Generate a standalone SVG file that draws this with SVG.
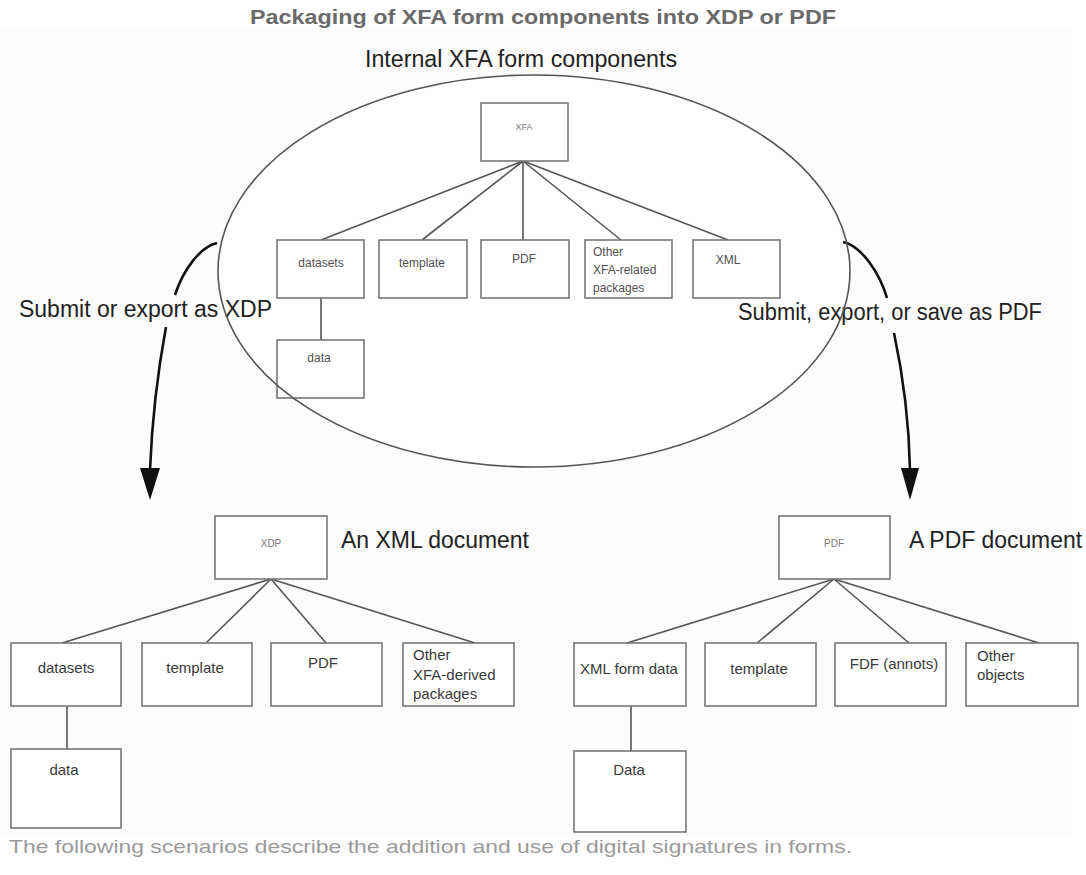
<svg xmlns="http://www.w3.org/2000/svg" width="1086" height="875" viewBox="0 0 1086 875">
  <defs>
    <style>
      .box { fill: #ffffff; stroke: #777777; stroke-width: 1.6; }
      .link { stroke: #555555; stroke-width: 1.6; fill: none; }
      .flow { stroke: #111111; stroke-width: 2.6; fill: none; }
      .head { fill: #111111; }
      .sm { font-family: "Liberation Sans", Arial, sans-serif; font-size: 12px; fill: #505050; }
      .md { font-family: "Liberation Sans", Arial, sans-serif; font-size: 15px; fill: #3a3a3a; }
      .tiny { font-family: "Liberation Sans", Arial, sans-serif; fill: #777777; }
      .big { font-family: "Liberation Sans", Arial, sans-serif; font-size: 23px; fill: #222222; }
      .mid { text-anchor: middle; }
    </style>
  </defs>

  <rect width="1086" height="875" fill="#ffffff"/>
  <!-- faint page panel -->
  <rect x="0" y="30" width="1072" height="806" fill="#fcfcfc"/>

  <!-- headings -->
  <text x="543" y="24" class="mid" font-family="Liberation Sans, Arial, sans-serif" font-size="21" font-weight="bold" fill="#6a6a6a" textLength="586" lengthAdjust="spacingAndGlyphs">Packaging of XFA form components into XDP or PDF</text>
  <text x="521" y="67" class="big mid" textLength="312" lengthAdjust="spacingAndGlyphs">Internal XFA form components</text>

  <!-- interior of the internal components boundary -->
  <ellipse cx="534" cy="271" rx="316" ry="196" fill="#ffffff"/>

  <!-- connectors -->
  <g id="connectors">
    <!-- internal tree -->
    <line class="link" x1="523" y1="161" x2="321" y2="240"/>
    <line class="link" x1="523" y1="161" x2="422" y2="240"/>
    <line class="link" x1="523" y1="161" x2="523" y2="240"/>
    <line class="link" x1="523" y1="161" x2="621" y2="240"/>
    <line class="link" x1="523" y1="161" x2="728" y2="240"/>
    <line class="link" x1="321" y1="298" x2="321" y2="340"/>
    <!-- XDP tree -->
    <line class="link" x1="271" y1="579" x2="62" y2="643"/>
    <line class="link" x1="271" y1="579" x2="206" y2="643"/>
    <line class="link" x1="271" y1="579" x2="326" y2="643"/>
    <line class="link" x1="271" y1="579" x2="475" y2="643"/>
    <line class="link" x1="67" y1="706" x2="67" y2="749"/>
    <!-- PDF tree -->
    <line class="link" x1="834" y1="579" x2="627" y2="643"/>
    <line class="link" x1="834" y1="579" x2="757" y2="643"/>
    <line class="link" x1="834" y1="579" x2="909" y2="643"/>
    <line class="link" x1="834" y1="579" x2="1039" y2="643"/>
    <line class="link" x1="631" y1="706" x2="631" y2="751"/>
    <!-- export to XDP -->
    <path class="flow" d="M217,243 C200,247 183,270 175,295"/>
    <path class="flow" d="M166,327 C158,370 152,420 150,470"/>
    <polygon class="head" points="140,468 160,468 150,500"/>
    <!-- save as PDF -->
    <path class="flow" d="M843,242 C862,246 880,274 887,298"/>
    <path class="flow" d="M894,333 C903,375 909,420 910,470"/>
    <polygon class="head" points="901,468 919,468 910,500"/>
  </g>

  <!-- flow labels -->
  <text x="19" y="317" class="big" textLength="253" lengthAdjust="spacingAndGlyphs">Submit or export as XDP</text>
  <text x="738" y="320" class="big" textLength="304" lengthAdjust="spacingAndGlyphs">Submit, export, or save as PDF</text>
  <text x="341" y="548" class="big" textLength="188" lengthAdjust="spacingAndGlyphs">An XML document</text>
  <text x="909" y="548" class="big" textLength="173" lengthAdjust="spacingAndGlyphs">A PDF document</text>

  <!-- internal XFA components -->
  <g id="xfa"><rect class="box" x="481" y="103" width="87" height="58"/><text x="524" y="130" class="tiny mid" font-size="9">XFA</text></g>
  <g id="in-datasets"><rect class="box" x="277" y="240" width="87" height="58"/><text x="321" y="267" class="sm mid">datasets</text></g>
  <g id="in-template"><rect class="box" x="379" y="240" width="88" height="58"/><text x="422" y="267" class="sm mid">template</text></g>
  <g id="in-pdf"><rect class="box" x="481" y="240" width="88" height="58"/><text x="524" y="263" class="sm mid">PDF</text></g>
  <g id="in-other"><rect class="box" x="585" y="240" width="87" height="58"/><text class="sm"><tspan x="593" y="256">Other</tspan><tspan x="593" y="274">XFA-related</tspan><tspan x="593" y="292">packages</tspan></text></g>
  <g id="in-xml"><rect class="box" x="693" y="240" width="87" height="58"/><text x="728" y="264" class="sm mid">XML</text></g>
  <g id="in-data"><rect class="box" x="277" y="340" width="87" height="58"/><text x="319" y="362" class="sm mid">data</text></g>

  <!-- boundary outline, drawn over the boxes and labels it crosses -->
  <ellipse id="internal" cx="534" cy="271" rx="316" ry="196" fill="none" stroke="#555555" stroke-width="1.6"/>

  <!-- XDP package -->
  <g id="xdp"><rect class="box" x="215" y="516" width="112" height="63"/><text x="271" y="547" class="tiny mid" font-size="10">XDP</text></g>
  <g id="xdp-datasets"><rect class="box" x="11" y="643" width="110" height="63"/><text x="66" y="673" class="md mid">datasets</text></g>
  <g id="xdp-template"><rect class="box" x="142" y="643" width="110" height="63"/><text x="195" y="673" class="md mid">template</text></g>
  <g id="xdp-pdf"><rect class="box" x="271" y="643" width="111" height="63"/><text x="323" y="668" class="md mid">PDF</text></g>
  <g id="xdp-other"><rect class="box" x="403" y="643" width="111" height="63"/><text class="md"><tspan x="413" y="660">Other</tspan><tspan x="413" y="680">XFA-derived</tspan><tspan x="413" y="699">packages</tspan></text></g>
  <g id="xdp-data"><rect class="box" x="11" y="749" width="110" height="79"/><text x="64" y="775" class="md mid">data</text></g>

  <!-- PDF package -->
  <g id="pdf"><rect class="box" x="779" y="516" width="111" height="63"/><text x="834" y="547" class="tiny mid" font-size="10">PDF</text></g>
  <g id="pdf-xmldata"><rect class="box" x="574" y="643" width="112" height="63"/><text x="629" y="674" class="md mid">XML form data</text></g>
  <g id="pdf-template"><rect class="box" x="705" y="643" width="111" height="63"/><text x="759" y="674" class="md mid">template</text></g>
  <g id="pdf-fdf"><rect class="box" x="835" y="643" width="111" height="63"/><text x="894" y="669" class="md mid">FDF (annots)</text></g>
  <g id="pdf-other"><rect class="box" x="966" y="643" width="112" height="63"/><text class="md"><tspan x="977" y="661">Other</tspan><tspan x="977" y="680">objects</tspan></text></g>
  <g id="pdf-data"><rect class="box" x="574" y="751" width="112" height="81"/><text x="629" y="775" class="md mid">Data</text></g>

  <!-- caption -->
  <text x="9" y="853" font-family="Liberation Sans, Arial, sans-serif" font-size="19" fill="#9a9a9a" textLength="843" lengthAdjust="spacingAndGlyphs">The following scenarios describe the addition and use of digital signatures in forms.</text>
</svg>
